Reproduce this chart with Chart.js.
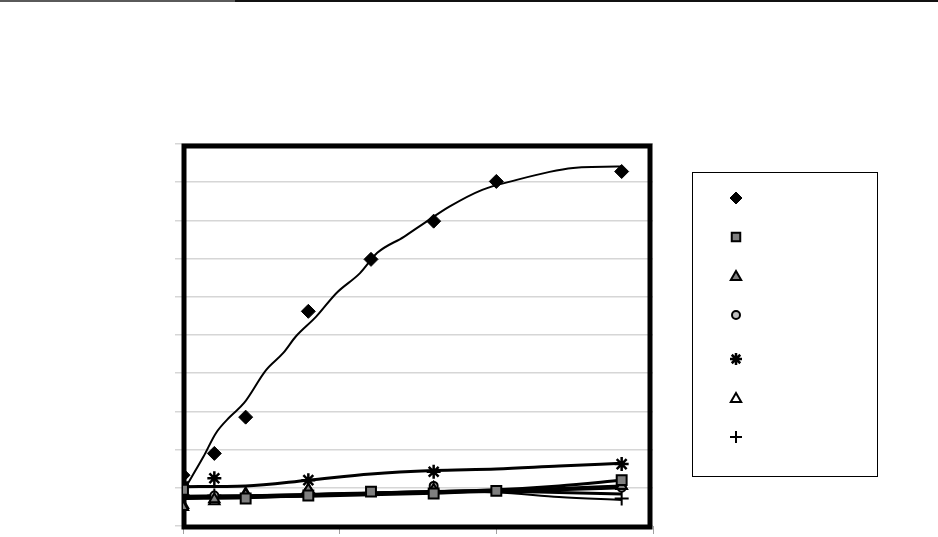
<!DOCTYPE html>
<html>
<head>
<meta charset="utf-8">
<script src="https://cdn.jsdelivr.net/npm/chart.js@4.4.1/dist/chart.umd.min.js"></script>
<style>
    body { margin: 0; background: #fff; }
    #wrap { position: relative; width: 938px; height: 537px; }
    #topGrey { position: absolute; left: 0; top: 0; width: 235px; height: 2px; background: #5a5a5a; }
    #topBlack { position: absolute; left: 235px; top: 0; width: 703px; height: 2px; background: #111; }
</style>
</head>
<body>
<div id="wrap">
    <canvas id="mainChart" width="938" height="537"></canvas>
    <div id="topGrey"></div>
    <div id="topBlack"></div>
</div>
<script>
// measured points
const sampleX = [0, 2, 4, 8, 12, 16, 20, 28];
const diamondY = [1.33, 1.90, 2.85, 5.62, 6.98, 7.98, 9.02, 9.28];

const squareX = [0, 4, 8, 12, 16, 20, 28];
const squareY = [0.95, 0.72, 0.80, 0.90, 0.85, 0.92, 1.20];

const greyTriX = [0, 2, 4, 8, 16, 28];
const greyTriY = [0.50, 0.70, 0.82, 0.95, 0.95, 1.05];

const circleX = [0, 2, 8, 16, 28];
const circleY = [0.90, 0.80, 0.90, 1.05, 1.00];

const starX = [0, 2, 8, 16, 28];
const starY = [1.03, 1.25, 1.20, 1.42, 1.62];

const openTriX = [0, 2, 4, 8, 16, 28];
const openTriY = [0.55, 0.65, 0.85, 0.95, 1.00, 1.05];

const plusX = [0, 2, 8, 16, 28];
const plusY = [0.80, 0.80, 0.85, 0.90, 0.72];

// fitted curves
const diamondFitX = [0, 1.3, 2.1, 3.0, 3.9, 5.3, 6.4, 7.2, 8.5, 9.8, 11.3, 12.4, 14.1, 15.4, 17.0, 19.1, 21.3, 23.4, 24.9, 27.7, 28];
const diamondFitY = [0.90, 1.81, 2.43, 2.86, 3.22, 4.08, 4.53, 4.96, 5.48, 6.10, 6.62, 7.15, 7.57, 7.93, 8.36, 8.80, 9.06, 9.27, 9.37, 9.41, 9.41];

const fitX = [0, 4, 8, 12, 16, 20, 24, 28];
const squareFitY = [0.72, 0.74, 0.80, 0.86, 0.90, 0.95, 1.05, 1.20];
const starFitY = [1.03, 1.05, 1.20, 1.36, 1.45, 1.49, 1.57, 1.64];
const greyTriFitY = [0.76, 0.77, 0.80, 0.85, 0.88, 0.92, 0.98, 1.05];
const circleFitY = [0.78, 0.79, 0.82, 0.86, 0.90, 0.93, 0.95, 1.00];
const openTriFitY = [0.74, 0.76, 0.78, 0.82, 0.86, 0.90, 0.88, 0.84];
const plusFitY = [0.78, 0.80, 0.84, 0.88, 0.90, 0.88, 0.76, 0.68];

const yTicks = [0, 1, 2, 3, 4, 5, 6, 7, 8, 9, 10];
const xTicks = [0, 10, 20, 30];

function toPoints(xs, ys) {
    return xs.map((x, i) => ({ x: x, y: ys[i] }));
}

function markerSet(xs, ys, style, fill, radius, border) {
    return {
        data: toPoints(xs, ys),
        showLine: false,
        pointStyle: style,
        pointRadius: radius,
        pointBackgroundColor: fill,
        pointBorderColor: '#000',
        pointBorderWidth: border
    };
}

function lineSet(xs, ys, width) {
    return {
        data: toPoints(xs, ys),
        showLine: true,
        borderColor: '#000',
        borderWidth: width,
        pointRadius: 0,
        cubicInterpolationMode: 'monotone'
    };
}

const markers = [
    markerSet(sampleX, diamondY, 'rectRot', '#000', 7, 1),
    markerSet(squareX, squareY, 'rect', '#7f7f7f', 7, 2),
    markerSet(greyTriX, greyTriY, 'triangle', '#7f7f7f', 6, 2),
    markerSet(circleX, circleY, 'circle', '#bfbfbf', 4, 2),
    markerSet(starX, starY, 'star', '#000', 7, 2.5),
    markerSet(openTriX, openTriY, 'triangle', '#fff', 6, 2),
    markerSet(plusX, plusY, 'cross', '#000', 7, 2)
];

const lines = [
    lineSet(diamondFitX, diamondFitY, 2),
    lineSet(fitX, squareFitY, 3),
    lineSet(fitX, starFitY, 3),
    lineSet(fitX, greyTriFitY, 3),
    lineSet(fitX, circleFitY, 3),
    lineSet(fitX, openTriFitY, 3),
    lineSet(fitX, plusFitY, 2)
];

// heavy frame round the plot area
const framePlugin = {
    id: 'frame',
    beforeDatasetsDraw(chart) {
        const a = chart.chartArea;
        const ctx = chart.ctx;
        ctx.save();
        ctx.strokeStyle = '#000';
        ctx.lineWidth = 5;
        ctx.strokeRect(a.left + 1, a.top + 2, a.right - a.left - 4, a.bottom - a.top - 1);
        ctx.restore();
    }
};

// legend box with markers only
const markerLegend = {
    id: 'markerLegend',
    afterDraw(chart) {
        const ctx = chart.ctx;
        const rows = [198, 237, 277, 315, 359, 399, 437];
        ctx.save();
        ctx.fillStyle = '#fff';
        ctx.fillRect(692, 172, 185, 304);
        ctx.strokeStyle = '#000';
        ctx.lineWidth = 1;
        ctx.strokeRect(692.5, 172.5, 185, 304);
        markers.forEach((m, i) => {
            ctx.fillStyle = m.pointBackgroundColor;
            ctx.strokeStyle = m.pointBorderColor;
            ctx.lineWidth = m.pointBorderWidth;
            Chart.helpers.drawPoint(ctx, {
                pointStyle: m.pointStyle,
                radius: m.pointStyle === 'circle' ? 4 : 6,
                rotation: 0,
                borderWidth: m.pointBorderWidth
            }, 736, rows[i]);
        });
        ctx.restore();
    }
};

const ctx = document.getElementById('mainChart').getContext('2d');
new Chart(ctx, {
    type: 'scatter',
    data: { datasets: [...markers, ...lines] },
    options: {
        responsive: false,
        animation: false,
        layout: { padding: { left: 175, right: 285, top: 144, bottom: 3 } },
        plugins: {
            legend: { display: false },
            tooltip: { enabled: false }
        },
        scales: {
            x: {
                type: 'linear',
                min: xTicks[0],
                max: xTicks[xTicks.length - 1],
                afterBuildTicks: s => { s.ticks = xTicks.map(v => ({ value: v })); },
                afterFit: s => { s.height = 8; },
                ticks: { display: false },
                grid: { drawOnChartArea: false, drawTicks: true, tickLength: 8, color: '#a0a0a0' },
                border: { display: false }
            },
            y: {
                type: 'linear',
                min: yTicks[0],
                max: yTicks[yTicks.length - 1],
                afterBuildTicks: s => { s.ticks = yTicks.map(v => ({ value: v })); },
                afterFit: s => { s.width = 8; },
                ticks: { display: false },
                grid: { color: '#d6d6d6', lineWidth: 1.5, drawTicks: true, tickLength: 8 },
                border: { display: false }
            }
        }
    },
    plugins: [framePlugin, markerLegend]
});
</script>
</body>
</html>
